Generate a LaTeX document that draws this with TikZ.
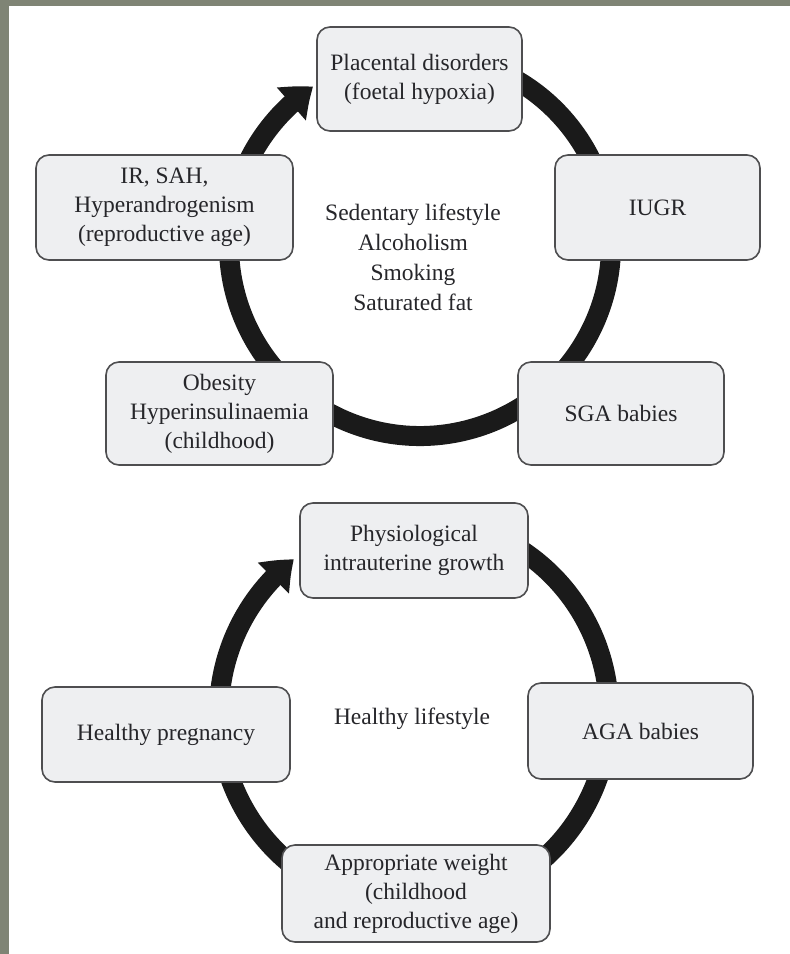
\documentclass[tikz,border=0pt]{standalone}
\usepackage{fontspec}
\setmainfont{Liberation Serif}
\usetikzlibrary{arrows.meta,bending}
\definecolor{framec}{RGB}{127,132,117}
\definecolor{boxfill}{RGB}{238,239,241}
\definecolor{boxline}{RGB}{78,78,80}
\definecolor{txt}{RGB}{38,38,42}
\definecolor{ringc}{RGB}{26,26,26}
\begin{document}
\begin{tikzpicture}[x=1pt,y=-1pt,
  box/.style={draw=boxline, line width=1.6pt, fill=boxfill, rounded corners=13pt,
    align=center, text=txt, font=\fontsize{23.5}{29}\selectfont, inner sep=0pt},
  ring/.style={line width=20pt, draw=ringc},
  headtip/.style={-{Triangle[length=28pt,width=42pt,bend]}},
  lbl/.style={align=center, text=txt, font=\fontsize{23.5}{30}\selectfont, inner sep=0pt}]
\useasboundingbox (0,0) rectangle (790,954);
\fill[white] (0,0) rectangle (790,954);
\fill[framec] (0,0) rectangle (9,954);
\fill[framec] (0,0) rectangle (790,6);

% ---- top cycle ----
\coordinate (c1) at (420,245);
\draw[ring,headtip] (c1) ++(-64:191) arc[start angle=-64, end angle=236, radius=191];

\node[box, minimum width=205pt, minimum height=104pt] (plac) at (419.5,79) {Placental disorders\\(foetal hypoxia)};
\node[box, minimum width=257pt, minimum height=105pt] (ir) at (164.5,207.5) {IR, SAH,\\Hyperandrogenism\\(reproductive age)};
\node[box, minimum width=205pt, minimum height=105pt] (iugr) at (657.5,207.5) {IUGR};
\node[box, minimum width=227pt, minimum height=103pt] (obes) at (219.5,413.5) {Obesity\\Hyperinsulinaemia\\(childhood)};
\node[box, minimum width=206pt, minimum height=103pt] (sga) at (621,413.5) {SGA babies};
\node[lbl] (risk) at (413,257) {Sedentary lifestyle\\Alcoholism\\Smoking\\Saturated fat};

% ---- bottom cycle ----
\coordinate (c2) at (414,713);
\draw[ring,headtip] (c2) ++(-60:195) arc[start angle=-60, end angle=232, radius=195];

\node[box, minimum width=228pt, minimum height=95pt] (phys) at (414,550.5) {Physiological\\intrauterine growth};
\node[box, minimum width=248pt, minimum height=95pt] (hp) at (166,734.5) {Healthy pregnancy};
\node[box, minimum width=225pt, minimum height=96pt] (aga) at (640.5,731) {AGA babies};
\node[box, minimum width=268pt, minimum height=97pt] (appr) at (416,893.5) {Appropriate weight\\(childhood\\and reproductive age)};
\node[lbl] (healthy) at (412,719) {Healthy lifestyle};
\end{tikzpicture}
\end{document}
